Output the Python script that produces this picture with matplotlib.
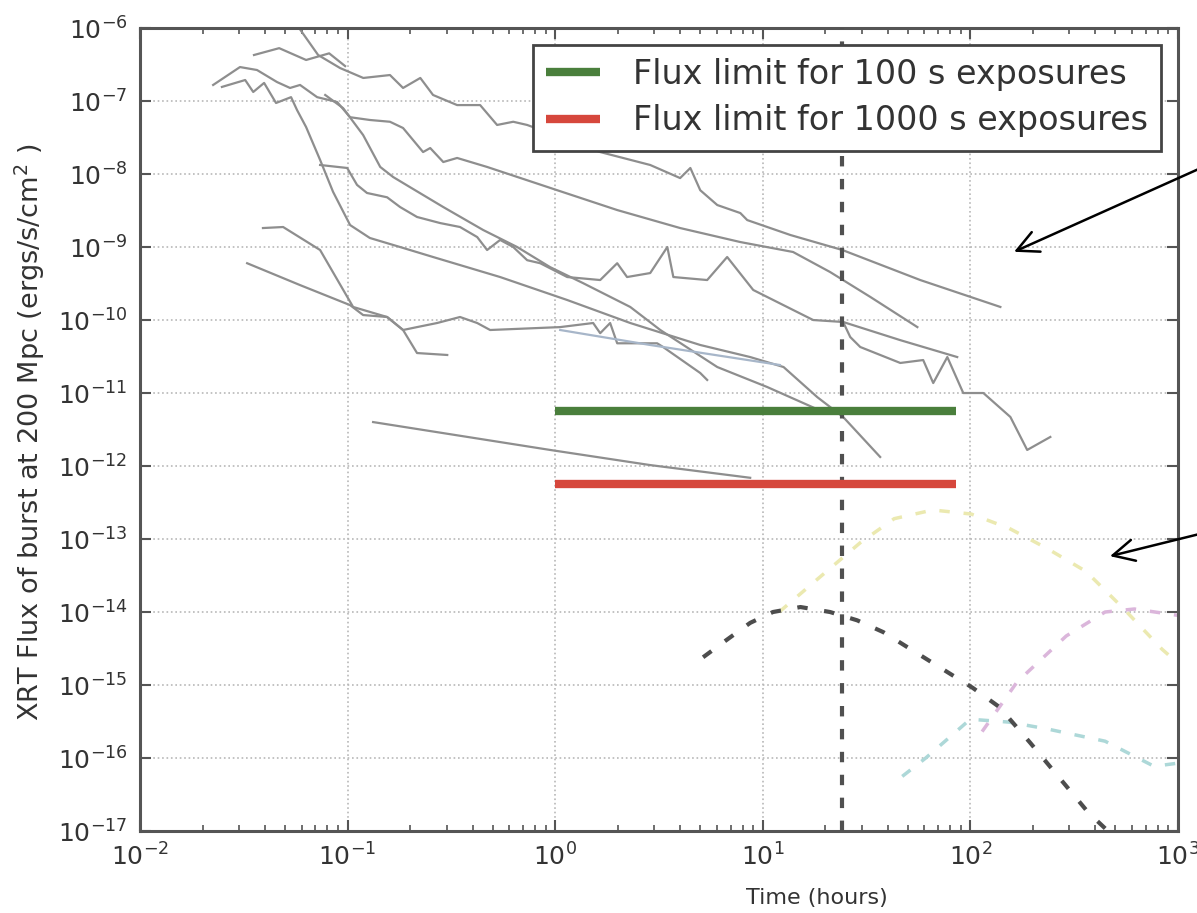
import matplotlib
matplotlib.use("Agg")
import matplotlib.pyplot as plt
from matplotlib.ticker import LogLocator, NullLocator, LogFormatterMathtext

plt.rcParams["font.family"] = ["DejaVu Sans"]

# ---- X-ray afterglow light curves (time in hours, flux in erg/s/cm^2) ----
grb_a_hours = [0.057, 0.0721, 0.092, 0.119, 0.160, 0.185, 0.224, 0.258, 0.337, 0.435,
               0.525, 0.628, 0.733, 1.057, 1.648, 2.87, 4.0, 4.48, 5.0, 6.04, 7.8,
               8.42, 13.6, 24.2, 57.4, 139.6]
grb_a_flux = [1.1e-6, 4.27e-7, 2.83e-7, 2.07e-7, 2.27e-7, 1.51e-7, 2.07e-7, 1.21e-7,
              8.8e-8, 8.8e-8, 4.7e-8, 5.2e-8, 4.7e-8, 3.21e-8, 2.0e-8, 1.33e-8, 8.8e-9,
              1.21e-8, 6.0e-9, 3.76e-9, 2.92e-9, 2.34e-9, 1.46e-9, 9.1e-10, 3.53e-10,
              1.51e-10]

grb_c_hours = [0.0354, 0.0468, 0.0631, 0.0815, 0.0973]
grb_c_flux = [4.27e-7, 5.3e-7, 3.65e-7, 4.5e-7, 3.01e-7]

grb_d_hours = [0.0225, 0.0303, 0.0366, 0.0457, 0.0528, 0.059, 0.0713, 0.089, 0.1028,
               0.128, 0.160, 0.185, 0.231, 0.25, 0.289, 0.337, 0.47, 1.023, 1.99, 4.0,
               7.8, 14.0, 21.1, 33.0, 55.6]
grb_d_flux = [1.66e-7, 2.92e-7, 2.66e-7, 1.82e-7, 1.51e-7, 1.66e-7, 1.13e-7, 9.7e-8,
              6.0e-8, 5.5e-8, 5.2e-8, 4.27e-8, 2.0e-8, 2.27e-8, 1.46e-8, 1.66e-8,
              1.25e-8, 6.0e-9, 3.21e-9, 1.82e-9, 1.17e-9, 8.55e-10, 4.55e-10,
              2.07e-10, 8.0e-11]

grb_e_hours = [0.0737, 0.0995, 0.111, 0.124, 0.155, 0.179, 0.216, 0.279, 0.348, 0.421,
               0.47, 0.543, 0.628, 0.733, 0.847, 1.143, 1.648, 1.99, 2.22, 2.87, 3.47,
               3.71, 5.4, 6.74, 9.0, 10.5, 17.5, 24.4, 26.4, 29.5, 46.0, 59.3, 66.3,
               77.5, 92.5, 115.6, 156.0, 188.0, 243.0]
grb_e_flux = [1.33e-8, 1.21e-8, 7.1e-9, 5.5e-9, 4.8e-9, 3.53e-9, 2.58e-9, 2.13e-9,
              1.88e-9, 1.37e-9, 9.1e-10, 1.25e-9, 1.0e-9, 6.6e-10, 6.0e-10, 3.88e-10,
              3.53e-10, 6.0e-10, 3.88e-10, 4.4e-10, 1.0e-9, 3.88e-10, 3.53e-10,
              7.3e-10, 2.58e-10, 2.07e-10, 1.0e-10, 9.4e-11, 5.85e-11, 4.27e-11,
              2.58e-11, 2.83e-11, 1.37e-11, 3.11e-11, 1.0e-11, 1.0e-11, 4.7e-12,
              1.66e-12, 2.5e-12]

grb_g_hours = [24.4, 46.0, 86.5]
grb_g_flux = [9.4e-11, 5.3e-11, 3.11e-11]

grb_f_hours = [0.078, 0.0951, 0.1188, 0.1436, 0.1657, 0.2, 0.289, 0.45, 0.656, 0.946,
               1.36, 2.30, 3.21, 6.04, 10.5, 19.6]
grb_f_flux = [1.21e-7, 8.0e-8, 3.42e-8, 1.25e-8, 9.1e-9, 6.6e-9, 3.53e-9, 1.71e-9,
              1.0e-9, 5.3e-10, 3.21e-10, 1.51e-10, 7.3e-11, 2.27e-11, 1.21e-11, 5.5e-12]

grb_h_hours = [0.0248, 0.0321, 0.0351, 0.0396, 0.0452, 0.0534, 0.0571, 0.0631, 0.0737,
               0.0851, 0.1028, 0.128, 0.179, 0.258, 0.543, 1.143, 2.30, 5.0, 8.7, 12.6,
               18.3, 24.4, 36.8]
grb_h_flux = [1.56e-7, 1.94e-7, 1.33e-7, 1.77e-7, 9.4e-8, 1.13e-7, 7.5e-8, 4.4e-8,
              1.56e-8, 5.7e-9, 2.0e-9, 1.33e-9, 1.0e-9, 7.3e-10, 3.88e-10, 1.88e-10,
              9.1e-11, 4.55e-11, 3.11e-11, 2.27e-11, 8.8e-12, 4.7e-12, 1.33e-12]

grb_k_hours = [0.0328, 0.059, 0.1028, 0.1188, 0.155, 0.185, 0.216, 0.27, 0.348, 0.421,
               0.486, 1.057, 1.524, 1.648, 1.84, 1.99, 3.10, 3.31, 5.0, 5.4]
grb_k_flux = [6.0e-10, 3.01e-10, 1.6e-10, 1.17e-10, 1.1e-10, 7.3e-11, 8.0e-11, 9.1e-11,
              1.1e-10, 9.1e-11, 7.3e-11, 8.0e-11, 9.1e-11, 6.6e-11, 9.1e-11, 4.8e-11,
              4.8e-11, 4.27e-11, 1.88e-11, 1.51e-11]

grb_k2_hours = [1.057, 2.87, 12.1]
grb_k2_flux = [7.3e-11, 4.55e-11, 2.42e-11]

grb_l_hours = [0.0391, 0.0489, 0.0737, 0.1063, 0.155, 0.185, 0.216, 0.302]
grb_l_flux = [1.82e-9, 1.88e-9, 9.1e-10, 1.51e-10, 1.1e-10, 7.3e-11, 3.53e-11, 3.32e-11]

grb_j_hours = [0.1327, 0.946, 2.87, 8.7]
grb_j_flux = [4.0e-12, 1.66e-12, 1.03e-12, 6.9e-13]

afterglows = [
    (grb_a_hours, grb_a_flux), (grb_c_hours, grb_c_flux), (grb_d_hours, grb_d_flux),
    (grb_e_hours, grb_e_flux), (grb_g_hours, grb_g_flux), (grb_f_hours, grb_f_flux),
    (grb_h_hours, grb_h_flux), (grb_k_hours, grb_k_flux), (grb_l_hours, grb_l_flux),
    (grb_j_hours, grb_j_flux),
]

# ---- model light curves (dashed) ----
model_dark_hours = [5.16, 6.74, 8.7, 11.2, 15.2, 21.1, 28.5, 38.1, 103, 138, 195, 371, 457, 533]
model_dark_flux = [2.4e-15, 4.2e-15, 7.1e-15, 1.0e-14, 1.17e-14, 1.0e-14, 7.7e-15, 5.3e-15,
                   9.1e-16, 5.0e-16, 1.6e-16, 1.78e-17, 1.02e-17, 6.5e-18]

model_yellow_hours = [12, 18.3, 29.5, 43, 66, 101, 154, 235, 361, 550, 838, 1000]
model_yellow_flux = [1.0e-14, 2.8e-14, 8.9e-14, 1.9e-13, 2.5e-13, 2.2e-13, 1.4e-13,
                     7.4e-14, 3.6e-14, 1.1e-14, 3.1e-15, 2.0e-15]

model_pink_hours = [114, 168, 290, 446, 617, 1000]
model_pink_flux = [2.3e-16, 1.1e-15, 4.7e-15, 1.0e-14, 1.1e-14, 9.0e-15]

model_cyan_hours = [47, 61, 100, 154, 235, 446, 768, 1000]
model_cyan_flux = [5.6e-17, 1.0e-16, 3.4e-16, 3.1e-16, 2.5e-16, 1.7e-16, 7.7e-17, 8.5e-17]

# ---- detection limits ----
limit_hours = [1.0, 85.0]
flux_limit_100s = 5.6e-12
flux_limit_1000s = 5.7e-13
limit_labels = ["Flux limit for 100 s exposures", "Flux limit for 1000 s exposures"]

marker_time = 24.0

fig = plt.figure(figsize=(11.97, 9.13), dpi=100)
ax = fig.add_axes([0.117, 0.0898, 0.867, 0.8795])
ax.set_xscale("log")
ax.set_yscale("log")

for hours, flux in afterglows:
    ax.plot(hours, flux, color="#8e8e8e", lw=1.6, zorder=2)
ax.plot(grb_k2_hours, grb_k2_flux, color="#a7b6c9", lw=1.6, zorder=2)

ax.plot(model_yellow_hours, model_yellow_flux, color="#ebe9b0", lw=2.5, ls=(0, (3, 4)), zorder=2)
ax.plot(model_pink_hours, model_pink_flux, color="#dbb6db", lw=2.5, ls=(0, (3, 4)), zorder=2)
ax.plot(model_cyan_hours, model_cyan_flux, color="#add8d8", lw=2.5, ls=(0, (3, 4)), zorder=2)
ax.plot(model_dark_hours, model_dark_flux, color="#4d4d4d", lw=3, ls=(0, (2.5, 4)), zorder=3)

ax.axvline(marker_time, color="#505050", lw=3, ls=(0, (2.5, 3)), zorder=3)

ax.plot(limit_hours, [flux_limit_100s] * 2, color="#4a7f3c", lw=6, solid_capstyle="butt",
        label=limit_labels[0], zorder=4)
ax.plot(limit_hours, [flux_limit_1000s] * 2, color="#d6473c", lw=6, solid_capstyle="butt",
        label=limit_labels[1], zorder=4)

ax.set_xlim(1e-2, 1e3)
ax.set_ylim(1e-17, 1e-6)
ax.set_xticks([10.0 ** k for k in range(-2, 4)])
ax.set_yticks([10.0 ** k for k in range(-17, -5)])
ax.xaxis.set_minor_locator(LogLocator(base=10, subs=range(2, 10), numticks=20))
ax.yaxis.set_minor_locator(NullLocator())
ax.xaxis.set_major_formatter(LogFormatterMathtext())
ax.yaxis.set_major_formatter(LogFormatterMathtext())

ax.tick_params(which="both", direction="in", top=True, right=True, colors="#555555")
ax.tick_params(which="major", length=8, width=1.5, labelsize=18, labelcolor="#333333", pad=9)
ax.tick_params(which="minor", length=4, width=1.2)
for sp in ax.spines.values():
    sp.set_color("#555555")
    sp.set_linewidth(2.2)

ax.grid(True, which="major", ls=":", color="#b8b8b8", lw=1.2, zorder=0)

ax.set_xlabel("Time (hours)", fontsize=16, color="#333333")
ax.set_ylabel("XRT Flux of burst at 200 Mpc (ergs/s/cm$^2$ )", fontsize=19.5, color="#333333")
ax.xaxis.set_label_coords(0.652, -0.071)
ax.yaxis.set_label_coords(-0.09, 0.497)

leg = ax.legend(loc="upper right", fontsize=24, fancybox=False, framealpha=1,
                handlelength=1.6, handletextpad=1.0, borderaxespad=0.5, labelspacing=0.4)
leg.get_frame().set_edgecolor("#444444")
leg.get_frame().set_linewidth(2)
for t in leg.get_texts():
    t.set_color("#333333")

# pointers coming in from the right margin
arrow_kw = dict(arrowstyle="->,head_length=0.7,head_width=0.35", color="black", lw=1.8,
                mutation_scale=22)
ax.annotate("", xy=(158, 8.3e-10), xycoords="data", xytext=(1.04, 0.836),
            textcoords="axes fraction", arrowprops=arrow_kw, annotation_clip=False)
ax.annotate("", xy=(457, 5.7e-14), xycoords="data", xytext=(1.04, 0.376),
            textcoords="axes fraction", arrowprops=arrow_kw, annotation_clip=False)

fig.savefig("out.png", dpi=100)
